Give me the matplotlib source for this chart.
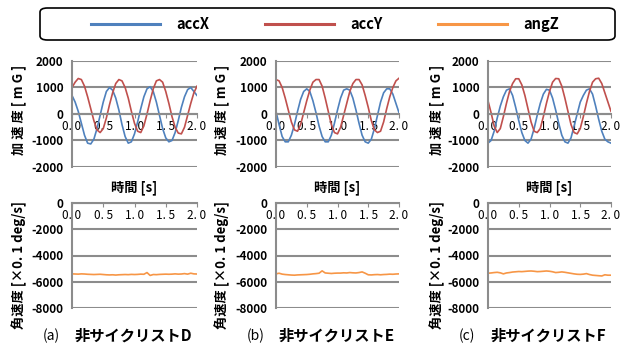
import matplotlib
matplotlib.use("Agg")
import matplotlib.pyplot as plt
from matplotlib.lines import Line2D
from matplotlib.patches import FancyBboxPatch

plt.rcParams["font.family"] = ["Noto Sans CJK JP", "DejaVu Sans"]

# time axis, 0.05 s steps
t = [i * 0.05 for i in range(41)]

# (a) non-cyclist D
accX_a = [700, 450, 100, -350, -800, -1100, -1130, -950, -550, -50,
          450, 850, 1000, 900, 600, 150, -400, -850, -1100, -1050,
          -750, -300, 200, 650, 950, 1030, 850, 450, -50, -550,
          -900, -1050, -1000, -700, -250, 250, 650, 920, 1000, 850, 700]
accY_a = [1000, 1200, 1340, 1300, 1050, 650, 200, -250, -600, -700,
          -550, -150, 350, 800, 1150, 1300, 1250, 1000, 600, 100,
          -350, -650, -700, -450, 0, 500, 950, 1250, 1300, 1200,
          850, 400, -100, -500, -720, -750, -500, -50, 400, 800, 1050]
angZ_a = [-5400, -5410, -5420, -5400, -5410, -5430, -5440, -5450, -5440, -5430,
          -5450, -5470, -5480, -5470, -5490, -5470, -5460, -5450, -5460, -5440,
          -5450, -5440, -5420, -5430, -5300, -5520, -5450, -5460, -5440, -5430,
          -5420, -5430, -5420, -5400, -5420, -5410, -5380, -5420, -5350, -5400, -5410]

# (b) non-cyclist E
accX_b = [100, -400, -850, -1050, -1050, -800, -400, 100, 550, 850,
          950, 850, 500, 50, -450, -850, -1050, -1050, -800, -350,
          150, 600, 900, 950, 900, 600, 150, -350, -800, -1050,
          -1100, -950, -550, -50, 450, 800, 950, 950, 750, 400, 50]
accY_b = [1300, 1250, 1000, 600, 150, -300, -600, -650, -400, 50,
          500, 900, 1200, 1300, 1300, 1050, 600, 100, -400, -700,
          -750, -500, -50, 400, 850, 1150, 1300, 1300, 1100, 700,
          250, -250, -600, -700, -650, -300, 200, 650, 1000, 1250, 1350]
angZ_b = [-5400, -5350, -5420, -5450, -5470, -5490, -5500, -5480, -5470, -5460,
          -5450, -5430, -5400, -5380, -5350, -5170, -5330, -5350, -5370, -5350,
          -5340, -5340, -5320, -5330, -5300, -5320, -5330, -5300, -5250, -5350,
          -5470, -5480, -5460, -5450, -5470, -5450, -5440, -5420, -5430, -5410, -5400]

# (c) non-cyclist F
accX_c = [-1100, -1000, -650, -150, 300, 650, 900, 950, 700, 250,
          -250, -700, -1000, -1100, -950, -550, -50, 400, 750, 930,
          900, 600, 150, -350, -800, -1050, -1100, -900, -450, 0,
          450, 700, 900, 950, 750, 300, -200, -650, -950, -1050, -1100]
accY_c = [500, 50, -450, -700, -550, -100, 400, 850, 1150, 1330,
          1330, 1100, 700, 200, -300, -650, -700, -550, -100, 400,
          850, 1200, 1340, 1330, 1050, 600, 100, -400, -700, -750,
          -550, -100, 400, 850, 1200, 1330, 1350, 1150, 800, 450, 100]
angZ_c = [-5350, -5330, -5300, -5280, -5320, -5400, -5330, -5300, -5260, -5240,
          -5220, -5230, -5210, -5190, -5180, -5200, -5230, -5220, -5200, -5180,
          -5200, -5240, -5300, -5280, -5250, -5280, -5320, -5360, -5400, -5430,
          -5440, -5420, -5380, -5450, -5500, -5520, -5540, -5560, -5470, -5500, -5500]

panels = ["(a)", "(b)", "(c)"]
names = ["非サイクリストD", "非サイクリストE", "非サイクリストF"]
accX = [accX_a, accX_b, accX_c]
accY = [accY_a, accY_b, accY_c]
angZ = [angZ_a, angZ_b, angZ_c]

xticks = [0.0, 0.5, 1.0, 1.5, 2.0]
xticklabels = ["0. 0", "0. 5", "1. 0", "1. 5", "2. 0"]

BLUE = "#4F81BD"
RED = "#C0504D"
ORANGE = "#F79646"
GRID = "#8C8C8C"

W, H = 625, 349
fig = plt.figure(figsize=(W / 100, H / 100), dpi=100)

# axes boxes in pixels: left, right
cols = [(72, 197), (276, 399), (488, 611)]
ylab_x = [19, 222, 437]


def style(ax, ylim, yticks):
    ax.set_xlim(0, 2.0)
    ax.set_ylim(*ylim)
    ax.set_yticks(yticks)
    ax.set_yticklabels([str(v) for v in yticks], fontsize=8.5, fontweight="bold")
    ax.grid(axis="y", color=GRID, linewidth=1.5)
    ax.set_axisbelow(True)
    for s in ["top", "right"]:
        ax.spines[s].set_visible(False)
    ax.spines["left"].set_color(GRID)
    ax.spines["left"].set_linewidth(1.5)
    ax.spines["bottom"].set_position(("data", 0))
    ax.spines["bottom"].set_color(GRID)
    ax.spines["bottom"].set_linewidth(1.5)
    ax.tick_params(axis="y", length=0, pad=6)
    ax.tick_params(axis="x", length=3, color=GRID, pad=1)
    ax.set_xticks(xticks)
    ax.set_xticklabels(xticklabels, fontsize=8.5)
    ax.patch.set_alpha(0)


for i, (l, r) in enumerate(cols):
    x0 = l / W
    w = (r - l) / W
    ax1 = fig.add_axes([x0, 1 - 167 / H, w, (167 - 61) / H])
    ax1.plot(t, accX[i], color=BLUE, linewidth=1.2)
    ax1.plot(t, accY[i], color=RED, linewidth=1.2)
    style(ax1, (-2000, 2000), [-2000, -1000, 0, 1000, 2000])
    ax1.set_xlabel("時間 [s]", fontsize=9.5, fontweight="bold")
    ax1.xaxis.set_label_coords(0.5, -0.13)

    ax2 = fig.add_axes([x0, 1 - 308 / H, w, (308 - 203) / H])
    ax2.plot(t, angZ[i], color=ORANGE, linewidth=1.2)
    style(ax2, (-8000, 0), [-8000, -6000, -4000, -2000, 0])

    fig.text(ylab_x[i] / W, 1 - 110 / H, "加 速 度 [ m G ]", rotation=90,
             ha="center", va="center", fontsize=9.5, fontweight="bold")
    fig.text(ylab_x[i] / W, 1 - 265 / H, "角速度 [×0. 1 deg/s]", rotation=90,
             ha="center", va="center", fontsize=9.5, fontweight="bold")

    fig.text((l - 29) / W, 1 - 336 / H, panels[i], ha="left", va="center",
             fontsize=10)
    fig.text((l + 3) / W, 1 - 336 / H, names[i], ha="left", va="center",
             fontsize=11, fontweight="bold")

# legend box across the top
box = FancyBboxPatch((40 / W, 1 - 40 / H), 575 / W, 32 / H,
                     boxstyle="round,pad=0,rounding_size=0.012",
                     transform=fig.transFigure, facecolor="white",
                     edgecolor="black", linewidth=1.2)
fig.patches.append(box)

handles = [Line2D([], [], color=BLUE, linewidth=2.2),
           Line2D([], [], color=RED, linewidth=2.2),
           Line2D([], [], color=ORANGE, linewidth=2.2)]
fig.legend(handles, ["accX", "accY", "angZ"], loc="center", ncol=3,
           bbox_to_anchor=(325 / W, 1 - 24 / H), frameon=False,
           handlelength=4.73, handletextpad=1.1, columnspacing=3.85,
           prop={"size": 10.5, "weight": "bold"})

fig.savefig("out.png", dpi=100)
